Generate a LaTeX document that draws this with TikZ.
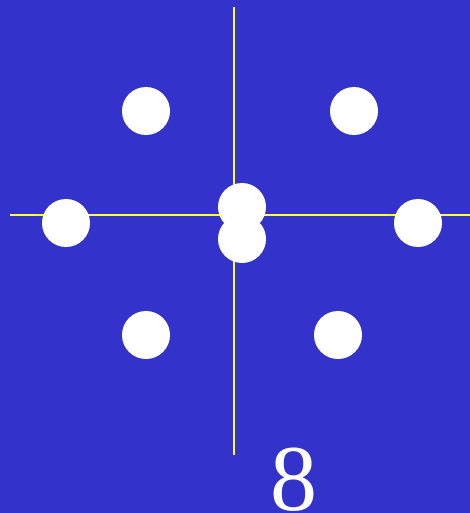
\documentclass[tikz,border=0pt]{standalone}
\usepackage{fontspec}
\setmainfont{Liberation Serif}
\usetikzlibrary{positioning}
\definecolor{bgblue}{HTML}{3333CC}
\definecolor{axisyellow}{HTML}{FFFF33}

\begin{document}
\begin{tikzpicture}[
    x=1pt, y=-1pt,
    dot/.style={circle, fill=white, minimum size=48pt, inner sep=0pt},
    axis/.style={draw=axisyellow, line width=1.6pt},
    numlabel/.style={text=white, font=\fontsize{94}{94}\selectfont, inner sep=0pt, anchor=base},
]
\fill[bgblue] (0,0) rectangle (470,513);
\useasboundingbox (0,0) rectangle (470,513);
% axes
\coordinate (top) at (234,7);
\coordinate (bottom) at (234,455);
\coordinate (left) at (10,215);
\coordinate (right) at (470,215);
\draw[axis] (top) -- (bottom);
\draw[axis] (left) -- (right);
% points
\node[dot] (p1) at (146,111) {};
\node[dot] (p2) at (354,111) {};
\node[dot] (p3) at (66,223) {};
\node[dot] (p4) at (418,223) {};
\node[dot] (p5) at (242,207) {};
\node[dot] (p6) at (242,239) {};
\node[dot] (p7) at (146,335) {};
\node[dot] (p8) at (338,335) {};
\node[numlabel] (count) at (294,510) {8};
\end{tikzpicture}
\end{document}
